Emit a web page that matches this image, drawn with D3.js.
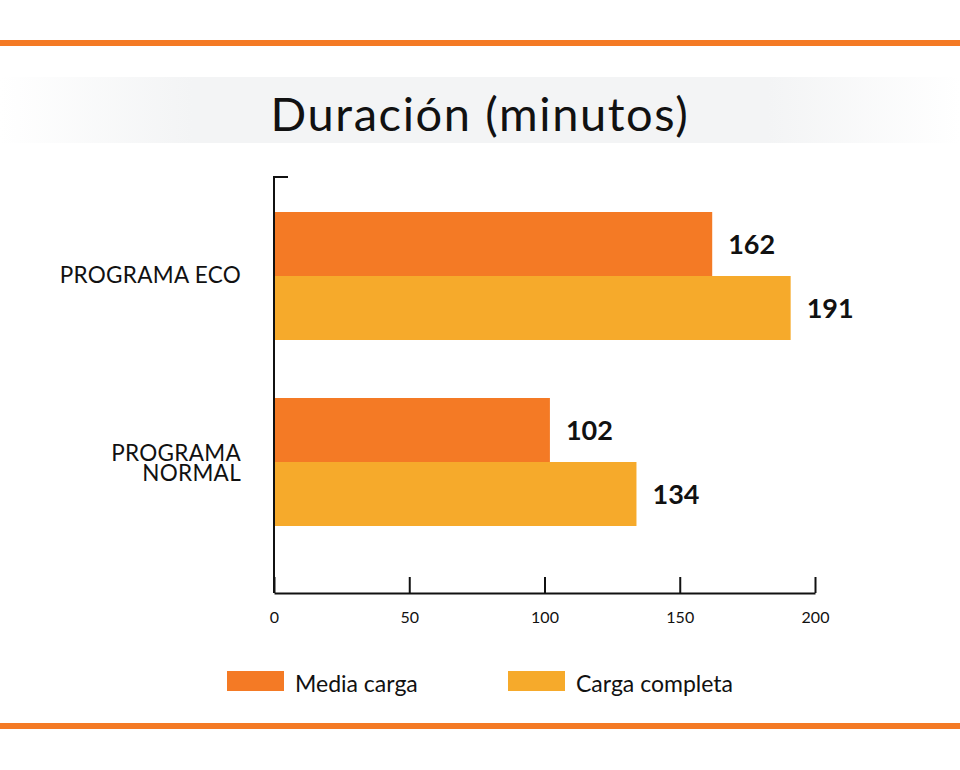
<!DOCTYPE html>
<html><head><meta charset="utf-8">
<script src="https://cdn.jsdelivr.net/npm/d3@7"></script>
<style>html,body{margin:0;padding:0;background:#fff;} svg{display:block;font-family:Lato,'Open Sans',sans-serif;}</style>
</head><body>
<script>
const title = "Duración (minutos)";
const categories = [["PROGRAMA ECO"], ["PROGRAMA", "NORMAL"]];
const categoryKeys = ["eco", "normal"];
const seriesNames = ["Media carga", "Carga completa"];
const mediaCarga = [162, 102];
const cargaCompleta = [191, 134];
const xTicks = [0, 50, 100, 150, 200];
const colors = ["#F47A25", "#F6AA2B"];

const W = 960, H = 770;
const svg = d3.select("body").append("svg").attr("width", W).attr("height", H);

// decorative lines
svg.append("rect").attr("x", 0).attr("y", 40).attr("width", W).attr("height", 6).attr("fill", colors[0]);
svg.append("rect").attr("x", 0).attr("y", 723).attr("width", W).attr("height", 6).attr("fill", colors[0]);

// title band
const defs = svg.append("defs");
const g = defs.append("linearGradient").attr("id", "tb").attr("x1", "0").attr("x2", "1");
g.append("stop").attr("offset", "0").attr("stop-color", "#f3f4f5").attr("stop-opacity", 0);
g.append("stop").attr("offset", "0.2").attr("stop-color", "#f3f4f5").attr("stop-opacity", 1);
g.append("stop").attr("offset", "0.8").attr("stop-color", "#f3f4f5").attr("stop-opacity", 1);
g.append("stop").attr("offset", "1").attr("stop-color", "#f3f4f5").attr("stop-opacity", 0);
svg.append("rect").attr("x", 0).attr("y", 77).attr("width", W).attr("height", 66).attr("fill", "url(#tb)");
svg.append("text").attr("x", 480).attr("y", 131).attr("text-anchor", "middle")
  .attr("font-size", 47).attr("letter-spacing", 1.6).attr("fill", "#111").text(title);

const x = d3.scaleLinear().domain([0, 200]).range([274, 815]);
const y0 = d3.scaleBand().domain(categoryKeys).range([183, 555]).padding(0);
const y1 = d3.scaleBand().domain(seriesNames).range([-64, 64]);

const data = categoryKeys.map((k, i) => ({key: k, label: categories[i], values: [mediaCarga[i], cargaCompleta[i]]}));

// bars
const groups = svg.selectAll("g.cat").data(data).join("g").attr("class", "cat")
  .attr("transform", d => `translate(0,${y0(d.key) + y0.bandwidth() / 2})`);
groups.selectAll("rect").data(d => d.values.map((v, j) => ({v, s: seriesNames[j], j})))
  .join("rect")
  .attr("x", x(0)).attr("y", d => y1(d.s)).attr("width", d => x(d.v) - x(0))
  .attr("height", y1.bandwidth()).attr("fill", d => colors[d.j]);
groups.selectAll("text.val").data(d => d.values.map((v, j) => ({v, s: seriesNames[j]})))
  .join("text").attr("class", "val")
  .attr("x", d => x(d.v) + 16).attr("y", d => y1(d.s) + y1.bandwidth() / 2 + 1)
  .attr("dy", "0.35em").attr("font-size", 27).attr("font-weight", "bold").attr("fill", "#111")
  .text(d => d.v);

// category labels
groups.append("text").attr("text-anchor", "end").attr("font-size", 22.5).attr("letter-spacing", 0.3).attr("fill", "#111")
  .each(function(d) {
    const t = d3.select(this);
    const n = d.label.length;
    d.label.forEach((line, i) => {
      t.append("tspan").attr("x", 241).attr("y", (i - (n - 1) / 2) * 20 + (n > 1 ? 1 : -1)).attr("dy", "0.35em").text(line);
    });
  });

// x axis
const xAxis = svg.append("g").attr("transform", "translate(0,593)")
  .call(d3.axisBottom(x).tickValues(xTicks).tickSizeInner(-16).tickSizeOuter(0).tickPadding(0));
xAxis.select(".domain").attr("stroke", "#111").attr("stroke-width", 2);
xAxis.selectAll(".tick line").attr("stroke", "#111").attr("stroke-width", 2);
xAxis.selectAll(".tick text").attr("font-size", 16).attr("font-family", "Lato, sans-serif")
  .attr("fill", "#111").attr("y", 24.5).attr("dy", "0.35em");
// y axis line with top tick
svg.append("path").attr("d", `M${x(0)},593V177H${x(0) + 14}`).attr("fill", "none")
  .attr("stroke", "#111").attr("stroke-width", 2);

// legend
const legend = svg.append("g");
const legX = [227, 508];
seriesNames.forEach((s, i) => {
  legend.append("rect").attr("x", legX[i]).attr("y", 671).attr("width", 57).attr("height", 20).attr("fill", colors[i]);
  legend.append("text").attr("x", legX[i] + 68).attr("y", 684).attr("dy", "0.35em")
    .attr("font-size", 23).attr("fill", "#111").text(s);
});
</script>
</body></html>
